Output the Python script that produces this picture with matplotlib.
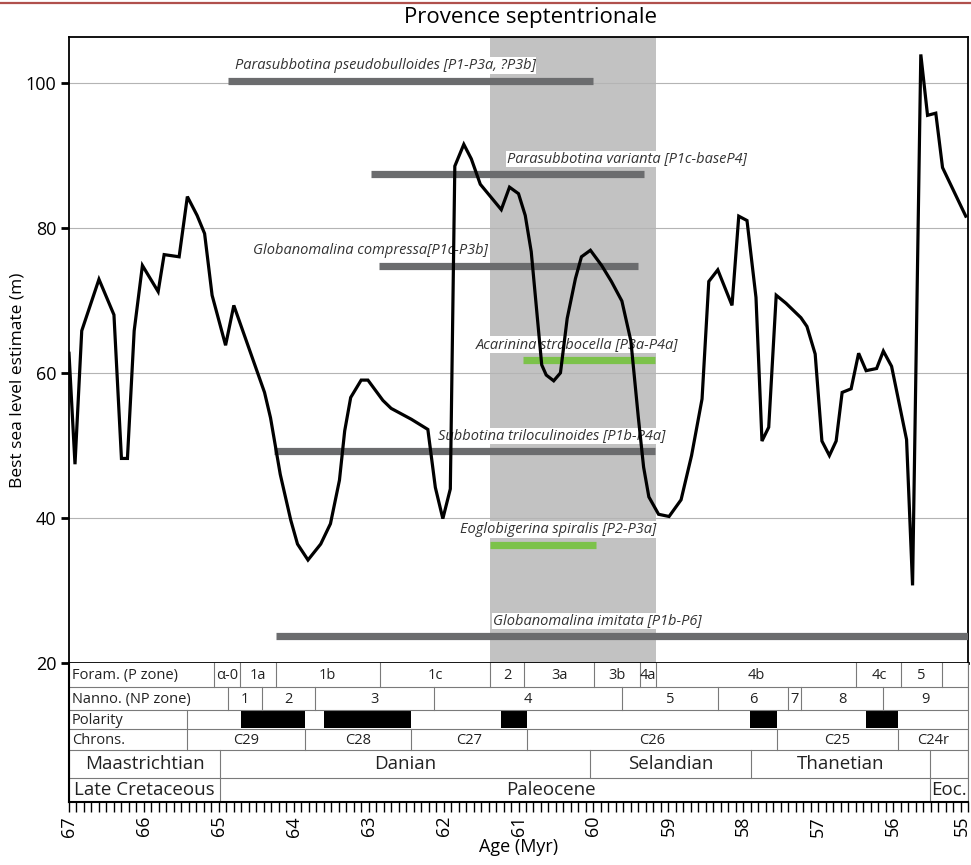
import matplotlib.pyplot as plt
import numpy as np
from matplotlib.lines import Line2D
from matplotlib.patches import Rectangle
from matplotlib.transforms import ScaledTranslation

plt.rcParams['font.family'] = ['Open Sans', 'DejaVu Sans']

# sea level curve, age (Myr) and best estimate (m)
age = [67.00, 66.92, 66.83, 66.60, 66.40, 66.30, 66.22, 66.13, 66.02, 65.81,
       65.73, 65.53, 65.42, 65.29, 65.19, 65.09, 64.91, 64.80, 64.39, 64.31,
       64.26, 64.18, 64.04, 63.95, 63.81, 63.64, 63.51, 63.39, 63.32, 63.24,
       63.10, 63.01, 62.81, 62.70, 62.43, 62.21, 62.11, 62.01, 61.91, 61.85,
       61.73, 61.63, 61.51, 61.23, 61.12, 61.00, 60.91, 60.83, 60.69, 60.63,
       60.53, 60.44, 60.35, 60.24, 60.16, 60.04, 59.89, 59.76, 59.62, 59.50,
       59.40, 59.33, 59.26, 59.13, 58.99, 58.83, 58.69, 58.55, 58.46, 58.34,
       58.15, 58.06, 57.95, 57.83, 57.75, 57.66, 57.56, 57.43, 57.23, 57.15,
       57.04, 56.95, 56.85, 56.76, 56.68, 56.56, 56.46, 56.36, 56.22, 56.13,
       56.02, 55.82, 55.74, 55.63, 55.54, 55.43, 55.34, 55.03]
sea_level = [62.7, 47.4, 65.8, 72.9, 68.0, 48.2, 48.2, 65.8, 74.8, 71.2,
             76.3, 76.0, 84.3, 81.7, 79.2, 70.7, 63.8, 69.3, 57.3, 53.8,
             50.8, 46.0, 39.7, 36.4, 34.2, 36.4, 39.2, 45.2, 52.0, 56.6,
             59.0, 59.0, 56.2, 55.1, 53.6, 52.2, 44.2, 39.9, 44.0, 88.5,
             91.5, 89.5, 86.0, 82.5, 85.6, 84.7, 81.7, 76.7, 61.1, 59.7,
             58.9, 60.0, 67.5, 73.0, 76.0, 76.9, 74.8, 72.6, 69.9, 64.4,
             53.8, 47.0, 42.9, 40.5, 40.2, 42.5, 48.6, 56.4, 72.6, 74.2,
             69.3, 81.6, 81.0, 70.4, 50.6, 52.5, 70.7, 69.6, 67.6, 66.4,
             62.6, 50.6, 48.6, 50.6, 57.3, 57.8, 62.7, 60.3, 60.6, 63.0,
             60.9, 50.8, 30.7, 103.9, 95.5, 95.8, 88.3, 81.6]

# foraminifera ranges
taxa = ['Parasubbotina pseudobulloides [P1-P3a, ?P3b]',
        'Parasubbotina varianta [P1c-baseP4]',
        'Globanomalina compressa[P1c-P3b]',
        'Acarinina strabocella [P3a-P4a]',
        'Subbotina triloculinoides [P1b-P4a]',
        'Eoglobigerina spiralis [P2-P3a]',
        'Globanomalina imitata [P1b-P6]']
range_old = [64.88, 62.97, 62.86, 60.94, 64.26, 61.38, 64.24]
range_young = [60.01, 59.32, 59.40, 59.18, 59.18, 59.97, 55.0]
range_level = [100.3, 87.4, 74.7, 61.8, 49.2, 36.3, 23.7]
range_green = [False, False, False, True, False, True, False]
label_age = [64.79, 61.16, 64.55, 61.57, 62.07, 61.78, 61.34]

band_old, band_young = 61.38, 59.17

# stratigraphic table
foram_bounds = [65.06, 64.72, 64.24, 62.85, 61.38, 60.92, 59.99, 59.38, 59.17,
                56.49, 55.89, 55.35, 55.0]
foram_names = ['α-0', '1a', '1b', '1c', '2', '3a', '3b', '4a', '4b', '4c', '5', '']
nanno_bounds = [64.88, 64.43, 63.71, 62.13, 59.62, 58.34, 57.40, 57.23, 56.13, 55.0]
nanno_names = ['1', '2', '3', '4', '5', '6', '7', '8', '9']
normal_old = [64.70, 63.59, 61.24, 57.91, 56.36]
normal_young = [63.85, 62.44, 60.88, 57.55, 55.93]
chron_bounds = [65.43, 63.85, 62.44, 60.88, 57.55, 55.93, 55.0]
chron_names = ['C29', 'C28', 'C27', 'C26', 'C25', 'C24r']
stage_bounds = [67.0, 64.98, 60.04, 57.90, 55.51, 55.0]
stage_names = ['Maastrichtian', 'Danian', 'Selandian', 'Thanetian', '']
epoch_bounds = [67.0, 64.98, 55.51, 55.0]
epoch_names = ['Late Cretaceous', 'Paleocene', 'Eoc.']
row_labels = ['Foram. (P zone)', 'Nanno. (NP zone)', 'Polarity', 'Chrons.']

fig = plt.figure(figsize=(9.71, 8.65), dpi=100)
W, H = 971.0, 865.0
ax = fig.add_axes([69 / W, 1 - 663 / H, 899 / W, 626 / H])
tb = fig.add_axes([69 / W, 1 - 802 / H, 899 / W, 139 / H], sharex=ax)

# ---- main panel
ax.axvspan(band_old, band_young, color='#c2c2c2', lw=0, zorder=1)
for v in [40, 60, 80, 100]:
    ax.axhline(v, color='#b4b4b4', lw=0.8, zorder=1.5)
for i in range(len(taxa)):
    c = '#7cc24a' if range_green[i] else '#6b6c6e'
    ax.plot([range_old[i], range_young[i]], [range_level[i]] * 2, color=c, lw=5.2,
            solid_capstyle='butt', zorder=3)
    ax.text(label_age[i], range_level[i] + 2.1, taxa[i], style='italic', fontsize=10.5,
            color='#333333', ha='left', va='center', zorder=2.5,
            bbox=dict(facecolor='white', edgecolor='none', pad=0.5))
ax.plot(age, sea_level, color='black', lw=2.3, solid_joinstyle='miter', zorder=4)

ax.set_xlim(67, 55)
ax.set_ylim(20, 106.3)
ax.set_yticks([20, 40, 60, 80, 100])
ax.tick_params(axis='y', direction='out', length=6, width=2, labelsize=13, pad=3)
ax.tick_params(axis='x', bottom=False, labelbottom=False)
for s in ax.spines.values():
    s.set_linewidth(1.3)
ax.spines['bottom'].set_linewidth(2)
fig.text(18 / W, 1 - 380 / H, 'Best sea level estimate (m)', rotation=90,
         ha='center', va='center', fontsize=12.5)
fig.text(531 / W, 1 - 18 / H, 'Provence septentrionale', ha='center', va='center',
         fontsize=16)
fig.add_artist(Line2D([0, 1], [1 - 2.5 / H] * 2, transform=fig.transFigure,
                      color='#b0504c', lw=1.6))

# ---- stratigraphic table (rows in pixel-like units)
rows = [0, 24, 47, 66, 86, 114, 138]
tb.set_ylim(138, 0)
lc = '#7a7a7a'
for r in rows[1:-1]:
    tb.axhline(r, color=lc, lw=0.8)


def zone_row(bounds, names, r0, r1, fs=10.5):
    for b in bounds:
        tb.plot([b, b], [r0, r1], color=lc, lw=0.8)
    for i, n in enumerate(names):
        tb.text((bounds[i] + bounds[i + 1]) / 2, (r0 + r1) / 2 + 0.5, n,
                ha='center', va='center', fontsize=fs, color='#222222')


zone_row(foram_bounds, foram_names, rows[0], rows[1])
zone_row(nanno_bounds, nanno_names, rows[1], rows[2])
tb.plot([65.43, 65.43], [rows[2], rows[3]], color=lc, lw=0.8)
for o, y in zip(normal_old, normal_young):
    tb.add_patch(Rectangle((o, rows[2] + 1), y - o, rows[3] - rows[2] - 2,
                           facecolor='black', edgecolor='none'))
zone_row(chron_bounds, chron_names, rows[3], rows[4])
zone_row(stage_bounds, stage_names, rows[4], rows[5], fs=13.5)
for b in epoch_bounds:
    tb.plot([b, b], [rows[5], rows[6]], color=lc, lw=0.8)
tb.text(66.0, (rows[5] + rows[6]) / 2 + 0.5, epoch_names[0], ha='center', va='center',
        fontsize=13.5, color='#222222')
tb.text(60.57, (rows[5] + rows[6]) / 2 + 0.5, epoch_names[1], ha='center', va='center',
        fontsize=13.5, color='#222222')
tb.text(55.49, (rows[5] + rows[6]) / 2 + 0.5, epoch_names[2], ha='left', va='center',
        fontsize=13.5, color='#222222')
for i, lab in enumerate(row_labels):
    tb.text(66.96, (rows[i] + rows[i + 1]) / 2 + 0.5, lab, ha='left', va='center',
            fontsize=10.5, color='#222222')

tb.set_xlim(67, 55)
tb.set_xticks(np.arange(55, 68, 1))
tb.set_xticklabels([str(v) for v in range(55, 68)], rotation=90)
tb.set_xticks(np.arange(55, 67.01, 0.1), minor=True)
tb.tick_params(axis='x', which='both', direction='out', length=7, width=1, labelsize=13,
               pad=3)
tb.tick_params(axis='y', left=False, labelleft=False)
tb.spines['top'].set_visible(False)
tb.spines['right'].set_color(lc)
tb.spines['left'].set_linewidth(1.5)
tb.spines['bottom'].set_linewidth(1.5)
tb.set_xlabel('Age (Myr)', fontsize=13, labelpad=1)

# keep the "55" label inside the figure edge
lbl55 = tb.get_xticklabels()[0]
lbl55.set_transform(lbl55.get_transform() + ScaledTranslation(-6 / 100, 0, fig.dpi_scale_trans))

fig.savefig('out.png', dpi=100)
